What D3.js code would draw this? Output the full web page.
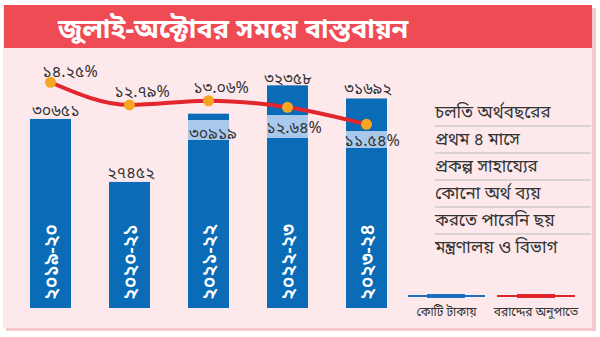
<!DOCTYPE html>
<html><head><meta charset="utf-8">
<script src="https://cdn.jsdelivr.net/npm/d3@7"></script>
<style>
html,body{margin:0;padding:0;background:#fff;}
svg{display:block;}
text{font-family:"Noto Sans Bengali","Noto Serif Bengali","Lohit Bengali","FreeSans","Mukti Narrow",sans-serif;}
</style></head>
<body>
<svg id="chart" width="600" height="337"></svg>
<script>
// ---- data ----
const title = "জুলাই-অক্টোবর সময়ে বাস্তবায়ন";
const years = ["২০১৯-২০", "২০২০-২১", "২০২১-২২", "২০২২-২৩", "২০২৩-২৪"];
const allocation = [30651, 27452, 30919, 32358, 31692];   // কোটি টাকায়
const percent = [14.25, 12.79, 13.06, 12.64, 11.54];       // বরাদ্দের অনুপাতে
const noteLines = ["চলতি অর্থবছরের", "প্রথম ৪ মাসে", "প্রকল্প সাহায্যের", "কোনো অর্থ ব্যয়", "করতে পারেনি ছয়", "মন্ত্রণালয় ও বিভাগ"];
const legendLabels = ["কোটি টাকায়", "বরাদ্দের অনুপাতে"];

const bnDigits = "০১২৩৪৫৬৭৮৯";
const toBn = s => String(s).replace(/[0-9]/g, d => bnDigits[+d]);

const svg = d3.select("#chart");

// card background with shadow
svg.append("rect").attr("x", 6).attr("y", 8).attr("width", 590).attr("height", 323).attr("fill", "#f4b9c0").attr("opacity", 0.8);
svg.append("rect").attr("x", 3).attr("y", 5).attr("width", 589).attr("height", 323).attr("fill", "#fde9ec");

// header
svg.append("rect").attr("x", 4).attr("y", 5).attr("width", 588).attr("height", 43).attr("fill", "#ef4b55");
svg.append("text").attr("x", 58).attr("y", 38).attr("fill", "#fff").attr("font-size", 27).attr("font-weight", "bold").text(title);

// scales
const x = d3.scaleBand().domain(years).range([30, 387]).paddingInner(38 / 79).paddingOuter(0);
const y = d3.scaleLinear().domain([21050, 33000]).range([308, 72.7]);
const yp = d3.scaleLinear().domain([10, 15]).range([148.3, 70.6]);

const barColor = "#0a6cb7", bandColor = "#a8c8ec";

// bars
svg.selectAll("rect.bar").data(years).join("rect").attr("class", "bar")
  .attr("x", d => x(d)).attr("width", x.bandwidth())
  .attr("y", (d, i) => y(allocation[i])).attr("height", (d, i) => y.range()[0] - y(allocation[i]))
  .attr("fill", barColor);

// light bands behind inner labels (bars 3,4,5)
const bands = [null, null, [120, 140], [115, 138], [131, 148]];
bands.forEach((b, i) => {
  if (!b) return;
  svg.append("rect").attr("x", x(years[i])).attr("width", x.bandwidth()).attr("y", b[0]).attr("height", b[1] - b[0]).attr("fill", bandColor);
});

// year labels rotated inside bars
svg.selectAll("text.year").data(years).join("text").attr("class", "year")
  .attr("transform", d => `translate(${x(d) + x.bandwidth() / 2 + 7},262) rotate(-90)`)
  .attr("text-anchor", "middle").attr("fill", "#fff").attr("font-size", 20).attr("font-weight", 600)
  .attr("textLength", 76).attr("lengthAdjust", "spacingAndGlyphs")
  .text(d => d);

// value labels
const valPos = [[56, 116], [131, 178], [213, 139], [288, 84], [368, 94]];
svg.selectAll("text.val").data(allocation).join("text").attr("class", "val")
  .attr("x", (d, i) => valPos[i][0]).attr("y", (d, i) => valPos[i][1])
  .attr("text-anchor", "middle").attr("fill", "#333").attr("font-size", 16)
  .text(d => toBn(d));

// line
const pts = years.map((d, i) => [x(d) + x.bandwidth() / 2, yp(percent[i])]);
svg.append("path").attr("d", d3.line().curve(d3.curveMonotoneX)(pts))
  .attr("fill", "none").attr("stroke", "#e3262d").attr("stroke-width", 4);
svg.selectAll("circle.pt").data(pts).join("circle").attr("class", "pt")
  .attr("cx", d => d[0]).attr("cy", d => d[1]).attr("r", 5.5).attr("fill", "#f6a623");

// percent labels
const pctPos = [[70, 77], [142, 97], [221, 93], [294, 133], [372, 146]];
svg.selectAll("text.pct").data(percent).join("text").attr("class", "pct")
  .attr("x", (d, i) => pctPos[i][0]).attr("y", (d, i) => pctPos[i][1])
  .attr("text-anchor", "middle").attr("fill", "#333").attr("font-size", 16)
  .text(d => toBn(d.toFixed(2)) + "%");

// note panel
const nx = 435, ny0 = 118, nstep = 27;
noteLines.forEach((t, i) => {
  svg.append("text").attr("x", nx).attr("y", ny0 + i * nstep).attr("fill", "#333").attr("font-size", 17).text(t);
  if (i < noteLines.length - 1)
    svg.append("line").attr("x1", nx).attr("x2", 591).attr("y1", ny0 + i * nstep + 8).attr("y2", ny0 + i * nstep + 8)
      .attr("stroke", "#bbb").attr("stroke-width", 1);
});

// legend
const legend = [[408, 485, 427, 465, "#1d6fc0"], [497, 575, 517, 555, "#e0262d"]];
legend.forEach((l, i) => {
  svg.append("line").attr("x1", l[0]).attr("x2", l[1]).attr("y1", 296).attr("y2", 296).attr("stroke", l[4]).attr("stroke-width", 2);
  svg.append("line").attr("x1", l[2]).attr("x2", l[3]).attr("y1", 296).attr("y2", 296).attr("stroke", l[4]).attr("stroke-width", 4);
  svg.append("text").attr("x", (l[0] + l[1]) / 2).attr("y", 316).attr("text-anchor", "middle").attr("fill", "#333").attr("font-size", 12).text(legendLabels[i]);
});
</script>
</body></html>
